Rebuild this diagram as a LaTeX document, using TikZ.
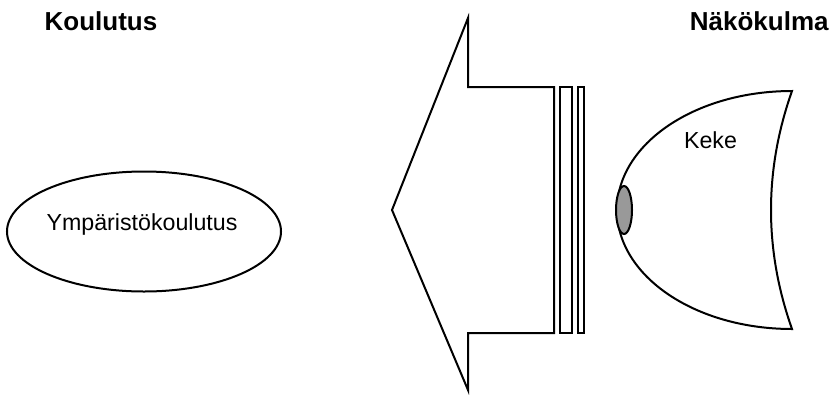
\documentclass[tikz,border=0pt]{standalone}
\usepackage{fontspec}
\setmainfont{Liberation Sans}
\begin{document}
\begin{tikzpicture}[
	x=0.5pt, y=-0.5pt,
	outline/.style={ draw, line width=1pt, line join=miter },
	title/.style={ font=\fontsize{13}{15}\selectfont\bfseries, inner sep=0pt, anchor=base },
	label/.style={ font=\fontsize{11.6}{14}\selectfont, inner sep=0pt, anchor=base },
	eye/.style={ draw, line width=1pt, fill=black!40 }
]

\useasboundingbox (0,0) rectangle (829,402);

\node at (101,30) (koulutus) [title] {Koulutus};
\node at (829,30) (nakokulma) [title, anchor=base east] {Näkökulma};

\draw[outline] (144,231.5) ellipse [x radius=137, y radius=60];
\node at (142,230) (ymparisto) [label] {Ympäristökoulutus};

\draw[outline] (392,210) -- (468,18) -- (468,87) -- (554,87)
	-- (554,333) -- (468,333) -- (468,390) -- cycle;
\foreach \a/\b in {560/572,578/584}
	\draw[outline] (\a,87) rectangle (\b,333);

\draw[outline] (792,91) .. controls (695,91) and (617,144) .. (617,210)
	.. controls (617,276) and (695,329) .. (792,329)
	.. controls (764,250) and (764,170) .. (792,91) -- cycle;
\node at (710.5,148) (keke) [label] {Keke};
\draw[eye] (624,210) ellipse [x radius=8, y radius=24];

\end{tikzpicture}
\end{document}
